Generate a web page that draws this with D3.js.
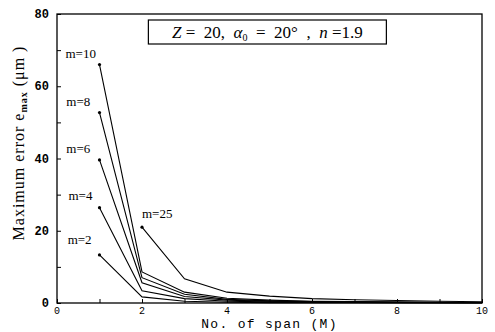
<!DOCTYPE html>
<html>
<head>
<meta charset="utf-8">
<script src="https://cdn.jsdelivr.net/npm/d3@7"></script>
<style>
  body { margin: 0; background: #fff; }
  text { fill: #000; }
</style>
</head>
<body>
<svg id="chart"></svg>
<script>
// span numbers and max error per curve
const spans = [1, 2, 3, 4, 5, 6, 7, 8, 9, 10];
const m2  = [13.3, 1.7, 0.5, 0.2, 0.1, 0.1, 0.1, 0.05, 0.05, 0.05];
const m4  = [26.4, 3.4, 1.2, 0.5, 0.3, 0.2, 0.15, 0.1, 0.1, 0.1];
const m6  = [39.6, 5.6, 1.8, 0.8, 0.5, 0.3, 0.2, 0.15, 0.1, 0.1];
const m8  = [52.7, 7.0, 2.4, 1.0, 0.6, 0.4, 0.3, 0.2, 0.15, 0.1];
const m10 = [66.0, 8.6, 3.0, 1.3, 0.8, 0.5, 0.4, 0.3, 0.2, 0.15];
const m25 = [null, 21.0, 6.7, 3.0, 1.9, 1.2, 0.9, 0.7, 0.5, 0.35];

const seriesNames = ["m=2", "m=4", "m=6", "m=8", "m=10", "m=25"];
const seriesVals = [m2, m4, m6, m8, m10, m25];

const xTicks = [0, 2, 4, 6, 8, 10];
const yTicks = [0, 20, 40, 60, 80];

const svgWidth = 495, svgHeight = 332;
const margin = { top: 14, right: 13, bottom: 29, left: 57 };
const width = svgWidth - margin.left - margin.right;
const height = svgHeight - margin.top - margin.bottom;

const svg = d3.select("#chart")
  .attr("width", svgWidth)
  .attr("height", svgHeight);

const g = svg.append("g")
  .attr("transform", "translate(" + margin.left + "," + margin.top + ")");

const x = d3.scaleLinear().domain([0, 10]).range([0, width]);
const y = d3.scaleLinear().domain([0, 80]).range([height, 0]);

// frame
g.append("rect")
  .attr("width", width)
  .attr("height", height)
  .attr("fill", "none")
  .attr("stroke", "#000")
  .attr("stroke-width", 1.3);

// inward ticks
const xAxis = g.append("g")
  .attr("transform", "translate(0," + height + ")")
  .call(d3.axisBottom(x).ticks(10).tickSizeInner(-4).tickSizeOuter(0).tickFormat(""));
xAxis.select(".domain").remove();

const yAxis = g.append("g")
  .call(d3.axisLeft(y).ticks(8).tickSizeInner(-4).tickSizeOuter(0).tickFormat(""));
yAxis.select(".domain").remove();

// tick labels
g.selectAll(".xlab")
  .data(xTicks)
  .enter().append("text")
  .attr("x", d => x(d))
  .attr("y", height + 11)
  .attr("text-anchor", "middle")
  .style("font", "10px 'Liberation Mono', monospace")
  .text(d => d);

g.selectAll(".ylab")
  .data(yTicks)
  .enter().append("text")
  .attr("x", -8)
  .attr("y", d => y(d) + 4)
  .attr("text-anchor", "end")
  .style("font", "bold 12px 'Liberation Mono', monospace")
  .text(d => d);

// axis titles
svg.append("text")
  .attr("x", margin.left + width / 2)
  .attr("y", 328)
  .attr("text-anchor", "middle")
  .style("font", "13px 'Liberation Mono', monospace")
  .style("letter-spacing", "1.3px")
  .text("No. of span (M)");

const yt = svg.append("text")
  .attr("transform", "translate(24," + (margin.top + 129) + ") rotate(-90)")
  .attr("text-anchor", "middle")
  .style("font", "16px 'Liberation Serif', serif")
  .style("letter-spacing", "1px");
yt.append("tspan").text("Maximum error e");
yt.append("tspan").attr("dy", 3).style("font-size", "10px").style("font-weight", "bold").text("max");
yt.append("tspan").attr("dy", -3).text(" (μm )");

// curves
const line = d3.line()
  .defined(d => d.v !== null)
  .x(d => x(d.s))
  .y(d => y(d.v));

seriesVals.forEach((vals, i) => {
  const pts = spans.map((s, j) => ({ s: s, v: vals[j] }));
  g.append("path")
    .datum(pts)
    .attr("fill", "none")
    .attr("stroke", "#000")
    .attr("stroke-width", 1.1)
    .attr("d", line);
  const first = pts.find(p => p.v !== null);
  g.append("circle")
    .attr("cx", x(first.s))
    .attr("cy", y(first.v))
    .attr("r", 1.6)
    .attr("fill", "#000");
});

// curve labels
const labelPos = [
  { s: 0.25, v: 16.2 },
  { s: 0.27, v: 28.6 },
  { s: 0.22, v: 41.4 },
  { s: 0.22, v: 54.6 },
  { s: 0.2, v: 67.8 },
  { s: 2.0, v: 23.4 }
];
seriesNames.forEach((name, i) => {
  g.append("text")
    .attr("x", x(labelPos[i].s))
    .attr("y", y(labelPos[i].v))
    .style("font", "13px 'Liberation Serif', serif")
    .text(name);
});

// parameter box
const box = g.append("g");
box.append("rect")
  .attr("x", x(2.15))
  .attr("y", 6)
  .attr("width", x(7.75) - x(2.15))
  .attr("height", 24)
  .attr("fill", "#fff")
  .attr("stroke", "#000")
  .attr("stroke-width", 1.2);
const bt = box.append("text")
  .attr("x", (x(2.15) + x(7.75)) / 2)
  .attr("y", 24)
  .attr("text-anchor", "middle")
  .style("font", "17px 'Liberation Serif', serif")
  .attr("xml:space", "preserve");
bt.append("tspan").style("font-style", "italic").text("Z");
bt.append("tspan").text(" =  20,  ");
bt.append("tspan").style("font-style", "italic").text("α");
bt.append("tspan").attr("dy", 3).style("font-size", "10px").text("0");
bt.append("tspan").attr("dy", -3).text("  =  20°  ,  ");
bt.append("tspan").style("font-style", "italic").text("n");
bt.append("tspan").text(" =1.9");
</script>
</body>
</html>
